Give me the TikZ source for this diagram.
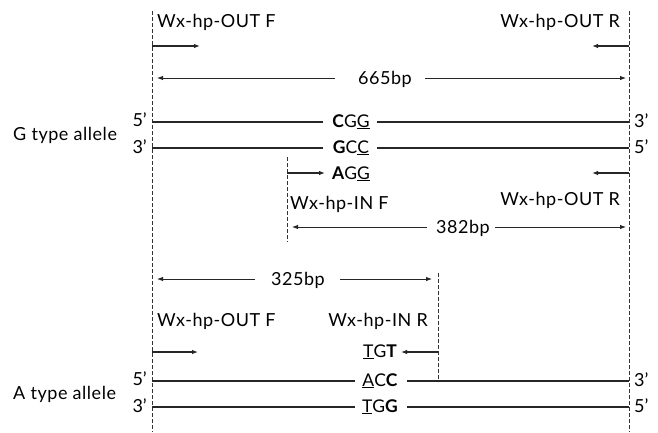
\documentclass[tikz,border=0pt]{standalone}
\usepackage{fontspec}
\setmainfont{Lato}
\usetikzlibrary{arrows.meta}
\begin{document}
\begin{tikzpicture}[x=1pt,y=-1pt,
  lbl/.style={inner sep=0pt, font=\fontsize{18}{21}\selectfont\addfontfeature{LetterSpace=3}},
  seq/.style={inner ysep=0pt, inner xsep=0pt, font=\fontsize{17.5}{20}\selectfont},
  endlbl/.style={inner sep=0pt, font=\fontsize{18}{21}\selectfont},
  strand/.style={line width=1.2pt, draw=black!85},
  primer/.style={line width=1.1pt, draw=black!85, -{Latex[length=6pt,width=4.5pt]}},
  span/.style={line width=0.9pt, draw=black!85, -{Latex[length=6pt,width=4.5pt]}},
  guide/.style={line width=0.9pt, draw=black!80, dash pattern=on 4pt off 2pt}]
\useasboundingbox[fill=white] (0,0) rectangle (658,432);
\newcommand{\ul}[1]{\underline{#1}}
% guide lines
\coordinate (LT) at (152,11); \coordinate (LB) at (152,432);
\coordinate (RT) at (629,11); \coordinate (RB) at (629,432);
\coordinate (INFt) at (287,157); \coordinate (INFb) at (287,242);
\coordinate (INRt) at (438,273); \coordinate (INRb) at (438,380);
\draw[guide] (LT) -- (LB);
\draw[guide] (RT) -- (RB);
\draw[guide] (INFt) -- (INFb);
\draw[guide] (INRt) -- (INRb);

% top primer labels
\node[lbl, anchor=base west] (outf1) at (157,27) {Wx-hp-OUT F};
\node[lbl, anchor=base east] (outr1) at (620,27) {Wx-hp-OUT R};
\coordinate (f1a) at (152,46); \coordinate (f1b) at (200,46);
\coordinate (r1a) at (629,46); \coordinate (r1b) at (592,46);
\draw[primer] (f1a) -- (f1b);
\draw[primer] (r1a) -- (r1b);

% 665bp
\node[lbl, anchor=base] (bp665) at (385,84) {665bp};
\coordinate (s665a) at (335,78); \coordinate (s665b) at (157,78);
\coordinate (s665c) at (425,78); \coordinate (s665d) at (626,78);
\draw[span] (s665a) -- (s665b);
\draw[span] (s665c) -- (s665d);

% G type allele
\node[lbl, anchor=west] (gallele) at (13,135) {G type allele};
\node[endlbl, anchor=east] (g5) at (147,120) {5’};
\node[endlbl, anchor=east] (g3) at (147,147) {3’};
\node[endlbl, anchor=west] (g3r) at (634,121) {3’};
\node[endlbl, anchor=west] (g5r) at (634,147) {5’};
\node[seq, anchor=base] (cgg) at (351,127) {\textbf{C}G\ul{G}};
\node[seq, anchor=base] (gcc) at (351,153) {\textbf{G}C\ul{C}};
\coordinate (g5a) at (152,122); \coordinate (g5b) at (323,122);
\coordinate (g5c) at (377,122); \coordinate (g5d) at (629,122);
\coordinate (g3a) at (152,148); \coordinate (g3b) at (323,148);
\coordinate (g3c) at (377,148); \coordinate (g3d) at (629,148);
\draw[strand] (g5a) -- (g5b); \draw[strand] (g5c) -- (g5d);
\draw[strand] (g3a) -- (g3b); \draw[strand] (g3c) -- (g3d);

% inner forward primer
\node[seq, anchor=base] (agg) at (351,179) {\textbf{A}G\ul{G}};
\coordinate (inf1) at (287,173); \coordinate (inf2) at (325,173);
\coordinate (r2a) at (629,173); \coordinate (r2b) at (592,173);
\draw[primer] (inf1) -- (inf2);
\draw[primer] (r2a) -- (r2b);
\node[lbl, anchor=base west] (infl) at (290,209) {Wx-hp-IN F};
\node[lbl, anchor=base east] (outr2) at (620,205) {Wx-hp-OUT R};

% 382bp
\node[lbl, anchor=base] (bp382) at (463,233) {382bp};
\coordinate (s382a) at (427,227); \coordinate (s382b) at (292,227);
\coordinate (s382c) at (495,227); \coordinate (s382d) at (626,227);
\draw[span] (s382a) -- (s382b);
\draw[span] (s382c) -- (s382d);

% 325bp
\node[lbl, anchor=base] (bp325) at (298,285) {325bp};
\coordinate (s325a) at (255,279); \coordinate (s325b) at (157,279);
\coordinate (s325c) at (340,279); \coordinate (s325d) at (432,279);
\draw[span] (s325a) -- (s325b);
\draw[span] (s325c) -- (s325d);

% A allele primers
\node[lbl, anchor=base west] (outf2) at (157,326) {Wx-hp-OUT F};
\node[lbl, anchor=base east] (inrl) at (428,326) {Wx-hp-IN R};
\coordinate (f2a) at (152,352); \coordinate (f2b) at (198,352);
\draw[primer] (f2a) -- (f2b);
\node[seq, anchor=base] (tgt) at (380,357) {\ul{T}G\textbf{T}};
\coordinate (inr1) at (438,352); \coordinate (inr2) at (401,352);
\draw[primer] (inr1) -- (inr2);

% A type allele
\node[lbl, anchor=west] (aallele) at (13,394) {A type allele};
\node[endlbl, anchor=east] (a5) at (147,379) {5’};
\node[endlbl, anchor=east] (a3) at (147,406) {3’};
\node[endlbl, anchor=west] (a3r) at (634,380) {3’};
\node[endlbl, anchor=west] (a5r) at (634,406) {5’};
\node[seq, anchor=base] (acc) at (380,386) {\ul{A}C\textbf{C}};
\node[seq, anchor=base] (tgg) at (380,412) {\ul{T}G\textbf{G}};
\coordinate (a5a) at (152,381); \coordinate (a5b) at (355,381);
\coordinate (a5c) at (407,381); \coordinate (a5d) at (629,381);
\coordinate (a3a) at (152,407); \coordinate (a3b) at (355,407);
\coordinate (a3c) at (407,407); \coordinate (a3d) at (629,407);
\draw[strand] (a5a) -- (a5b); \draw[strand] (a5c) -- (a5d);
\draw[strand] (a3a) -- (a3b); \draw[strand] (a3c) -- (a3d);
\end{tikzpicture}
\end{document}
